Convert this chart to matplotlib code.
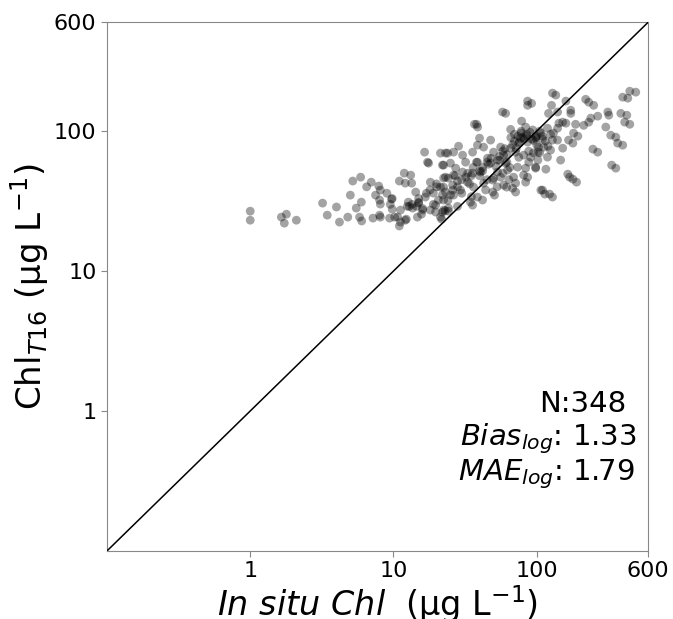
import numpy as np
import matplotlib
matplotlib.use("Agg")
import matplotlib.pyplot as plt
from matplotlib.ticker import FixedLocator, FixedFormatter, NullLocator

# in situ chlorophyll (ug/L)
insitu_chl = [
    1.0, 1.0, 1.65, 1.79, 1.73, 2.1, 3.2, 4.0, 3.45, 4.2, 4.8, 5.2, 5.9, 7.0, 7.9,
    5.0, 5.5, 5.97, 5.8, 6.0, 7.2, 7.5, 8.0, 8.0,
    9.7, 9.8, 9.4, 11.0, 11.9, 13.2, 13.4, 12.1, 11.2, 10.2, 12.7, 13.6, 14.3, 15.0,
    16.0, 14.7, 16.5, 17.3, 18.1, 19.0, 16.7, 19.7, 21.3, 23.9, 22.0, 22.4, 21.3,
    24.2, 23.1, 20.6, 22.4, 21.3, 18.1, 11.2, 12.1,
    8.1, 8.1, 8.1, 10.7, 11.0, 12.3, 12.9, 14.5, 15.7, 19.7, 21.7, 24.2, 28.0, 35.7,
    41.9, 50.8, 61.7, 71.3, 86.5, 114, 129, 170, 190, 267, 357, 399, 357, 447, 426,
    492, 433, 136, 92.2, 60.7, 38.7, 17.6,
    86.5, 86.5, 57.8, 36.8, 38.1, 65.8, 78.5, 83.8, 93.8, 77.3, 74.8, 86.5, 98.4, 103,
    39.9, 47.7, 38.6, 42.6, 28.5, 26.3, 23.1, 30.4, 35.7, 56.0, 50.0, 58.8, 65.8,
    71.3, 81.1, 90.8, 102, 22.4, 25.0, 27.2, 31.9, 38.6, 45.4, 47.7, 53.3, 60.7,
    73.6, 83.8, 98.4, 23.1, 26.3, 30.4, 35.7, 40.6, 53.3, 62.7, 32.9, 25.9, 22.4,
    29.4, 36.3, 42.6, 49.3, 56.0, 69.0, 81.1, 71.3, 83.8, 58.8, 67.9, 49.3, 38.6,
    34.5, 26.3, 22.4, 24.2, 22.0, 107,
    129, 447, 399, 220, 231, 250, 160, 127, 121, 140, 173, 173, 152, 143, 160, 187,
    213, 231, 239, 267, 314, 319, 387, 412, 304, 329, 368, 247, 334, 119, 107, 98.4,
    131, 140, 181, 194, 167, 179, 152, 125, 112, 102, 129, 119, 147, 98.4, 116, 165,
    179, 110, 123,
    80, 85, 92, 70, 60, 100, 95, 110, 75, 65, 45, 40, 35, 30, 50, 20, 18, 25, 15, 28,
    33, 42, 55, 62, 88, 105, 115, 125, 140, 78, 6.5, 9.0,
    9.5, 9.8, 13.5, 12.5, 15, 17, 20, 22, 19, 26, 28, 32, 36, 38, 42, 46, 48, 52, 55,
    58, 62, 66, 70, 74, 78, 82, 85, 90, 95, 100, 68, 72, 76, 58, 45, 40, 34, 30, 24,
    27, 110, 120, 105, 64, 88, 53, 44, 35, 23, 16,
]

# Chl estimated by the T16 algorithm (ug/L)
chl_t16 = [
    26.8, 23.1, 24.3, 25.5, 22.0, 23.1, 30.6, 28.7, 25.1, 22.4, 24.3, 44.0, 46.9, 43.2, 40.5,
    34.9, 28.2, 31.1, 24.3, 22.8, 23.9, 34.9, 32.2, 25.1,
    32.7, 27.7, 23.9, 44.0, 50.1, 48.5, 42.5, 42.5, 22.4, 24.3, 31.1, 28.2, 36.7, 30.6,
    27.3, 24.3, 70.8, 60.0, 43.2, 36.1, 33.8, 29.6, 69.7, 69.7, 57.2, 46.2, 39.8,
    46.2, 36.7, 32.2, 27.3, 24.3, 27.3, 27.3, 23.1,
    37.9, 30.1, 24.3, 24.3, 21.0, 23.5, 29.0, 29.0, 25.5, 26.4, 23.5, 26.8, 29.0, 29.6,
    32.2, 34.9, 39.8, 36.7, 46.9, 35.5, 33.8, 46.9, 43.2, 70.8, 54.4, 79.4, 90.6, 112, 130,
    190, 172, 181, 158, 134, 107, 59.1,
    164, 153, 137, 112, 112, 103, 118, 107, 102, 89.1, 82.1, 83.5, 89.1, 76.9,
    89.1, 86.3, 79.4, 76.9, 78.1, 70.8, 69.7, 67.4, 70.8, 76.9, 70.8, 67.4, 75.6,
    70.8, 67.4, 65.2, 62.1, 57.2, 59.1, 54.4, 60.0, 60.0, 64.1, 59.1, 62.1, 59.1,
    55.3, 54.4, 54.4, 46.9, 48.5, 51.0, 50.1, 51.0, 51.0, 52.7, 43.2, 41.1, 39.8,
    37.9, 39.8, 42.5, 44.7, 46.9, 46.9, 48.5, 42.5, 43.2, 41.1, 39.1, 36.7, 33.8,
    31.1, 34.9, 32.2, 28.2, 26.4, 37.9,
    187, 193, 175, 169, 161, 153, 164, 153, 134, 137, 141, 134, 116, 114, 114, 112,
    110, 116, 124, 128, 137, 130, 134, 116, 107, 93.6, 82.1, 74.4, 57.2, 105, 96.8, 90.6,
    96.8, 86.3, 96.8, 92.1, 86.3, 82.1, 75.6, 73.2, 76.9, 70.8, 86.3, 65.2, 62.1, 55.3, 53.5, 49.3,
    45.4, 37.9, 35.5,
    90, 95, 88, 85, 75, 80, 70, 92, 65, 55, 60, 52, 48, 45, 46, 42, 38, 35, 31, 40,
    50, 55, 62, 68, 72, 100, 85, 95, 105, 100, 40, 36,
    30, 33, 30, 29, 33, 36, 40, 35, 30, 38, 44, 47, 55, 60, 52, 58, 64, 56, 66,
    72, 60, 90, 95, 92, 97, 88, 93, 98, 86, 92, 80, 75, 84, 50, 45, 48, 42, 36, 32,
    48, 88, 78, 70, 45, 60, 40, 38, 34, 27, 28,
]

ticks = [1, 10, 100, 600]
tick_labels = ["1", "10", "100", "600"]
lims = (0.1, 600)

stats_lines = ["N:348", r"$\it{Bias_{log}}$: 1.33", r"$\it{MAE_{log}}$: 1.79"]
stats_x = [0.960, 0.979, 0.975]
stats_y = [0.263, 0.200, 0.134]

fig = plt.figure(figsize=(6.73, 6.19), dpi=100)
ax = fig.add_axes([0.159, 0.110, 0.804, 0.854])

ax.scatter(insitu_chl, chl_t16, s=40, c="black", alpha=0.36, edgecolors="none", zorder=2)
ax.plot(lims, lims, color="black", lw=1.1, zorder=3)

ax.set_xscale("log")
ax.set_yscale("log")
ax.set_xlim(lims)
ax.set_ylim(lims)

for axis in (ax.xaxis, ax.yaxis):
    axis.set_major_locator(FixedLocator(ticks))
    axis.set_major_formatter(FixedFormatter(tick_labels))
    axis.set_minor_locator(NullLocator())

ax.tick_params(labelsize=16, color="#888888", length=4)
for sp in ax.spines.values():
    sp.set_color("#888888")

ax.set_xlabel(r"$\it{In\ situ\ Chl}$  (µg L$^{-1}$)", fontsize=24, labelpad=1)
ax.set_ylabel(r"Chl$_{T16}$ (µg L$^{-1}$)", fontsize=24.5, labelpad=2)

for line, tx, ty in zip(stats_lines, stats_x, stats_y):
    ax.text(tx, ty, line, transform=ax.transAxes, ha="right", va="baseline", fontsize=21)

fig.savefig("out.png", dpi=100)
